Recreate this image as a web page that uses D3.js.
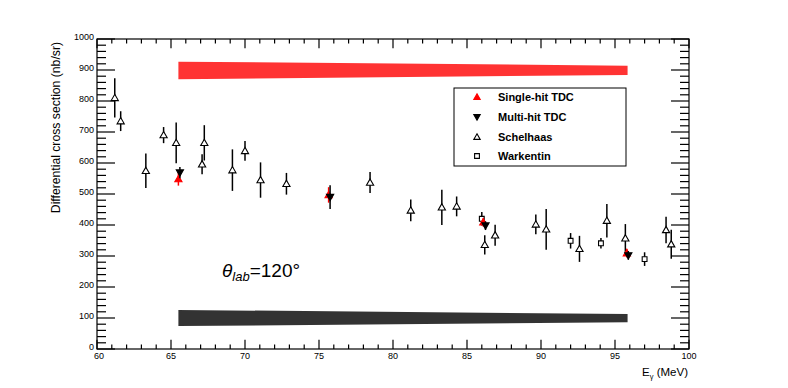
<!DOCTYPE html>
<html><head><meta charset="utf-8">
<script src="https://cdn.jsdelivr.net/npm/d3@7"></script>
<style>
body{margin:0;background:#fff;}
text{font-family:"Liberation Sans",Arial,Helvetica,sans-serif;}
</style></head>
<body><svg id="c" width="788" height="388"></svg>
<script>
// ---- data ----
const xTicks = [60,65,70,75,80,85,90,95,100];
const yTicks = [0,100,200,300,400,500,600,700,800,900,1000];

const schelhaasE   = [61.2, 61.6, 63.3, 64.5, 65.35, 67.1, 67.25, 69.15, 70.0, 71.05, 72.8, 78.45, 81.2, 83.3, 84.3, 86.2, 86.9, 89.65, 90.35, 92.6, 94.45, 95.7, 98.45, 98.8];
const schelhaasV   = [810, 735, 575, 690, 665, 596, 665, 577, 639, 545, 533, 537, 447, 457, 460, 336, 367, 402, 386, 323, 414, 357, 384, 338];
const schelhaasErr = [63, 32, 56, 26, 66, 32, 57, 67, 32, 57, 35, 34, 35, 57, 32, 31, 34, 32, 66, 42, 54, 46, 43, 47];

const warkentinE   = [86.0, 92.0, 94.05, 97.0];
const warkentinV   = [420, 349, 341, 290];
const warkentinErr = [22, 25, 17, 22];

const singleE   = [65.5, 75.65, 86.1, 95.8];
const singleV   = [548, 497, 409, 309];
const singleErr = [21, 25, 14, 14];

const multiE   = [65.6, 75.75, 86.25, 95.9];
const multiV   = [569, 490, 398, 302];
const multiErr = [18, 38, 14, 14];

const bandE        = [65.5, 95.85];
const redBandLow   = [870, 884];
const redBandHigh  = [927, 914];
const blackBandLow = [74, 86];
const blackBandHigh= [126, 113];

const legendLabels = ["Single-hit TDC","Multi-hit TDC","Schelhaas","Warkentin"];

// ---- layout ----
const svg = d3.select("#c");
const L=97, R=689, T=39, B=349;
const x = d3.scaleLinear().domain([60,100]).range([L,R]);
const y = d3.scaleLinear().domain([0,1000]).range([B,T]);

// bands
function band(lo, hi, color){
  const pts = bandE.map((e,i)=>[x(e), y(hi[i])]).concat(bandE.map((e,i)=>[x(e), y(lo[i])]).reverse());
  svg.append("path").attr("d", d3.line()(pts)+"Z").attr("fill", color);
}
band(redBandLow, redBandHigh, "#ff3333");
band(blackBandLow, blackBandHigh, "#333333");

// frame
svg.append("rect").attr("x",L).attr("y",T).attr("width",R-L).attr("height",B-T)
  .attr("fill","none").attr("stroke","#000").attr("stroke-width",1.2);

// ticks
const g = svg.append("g").attr("stroke","#000").attr("stroke-width",1.2);
const xMinor = d3.range(60,100.001,1);
xMinor.forEach(v=>{
  const major = Math.abs(v%5)<1e-6;
  const len = major?9.3:4.6;
  g.append("line").attr("x1",x(v)).attr("x2",x(v)).attr("y1",B).attr("y2",B-len);
  g.append("line").attr("x1",x(v)).attr("x2",x(v)).attr("y1",T).attr("y2",T+len);
});
const yMinor = d3.range(0,1000.001,20);
yMinor.forEach(v=>{
  const major = Math.abs(v%100)<1e-6;
  const len = major?18:9;
  g.append("line").attr("y1",y(v)).attr("y2",y(v)).attr("x1",L).attr("x2",L+len);
  g.append("line").attr("y1",y(v)).attr("y2",y(v)).attr("x1",R).attr("x2",R-len);
});

// tick labels
svg.append("g").selectAll("text").data(xTicks).join("text")
  .attr("x",d=>x(d)+ (d===60?2:0)).attr("y",B+10).attr("text-anchor","middle")
  .attr("font-size",9).text(d=>d);
svg.append("g").selectAll("text").data(yTicks).join("text")
  .attr("x",L-3).attr("y",d=>y(d)+1).attr("text-anchor","end")
  .attr("font-size",9).text(d=>d);

// axis titles
svg.append("text").attr("transform",`translate(60,42) rotate(-90)`).attr("text-anchor","end")
  .attr("font-size",12.2).text("Differential cross section (nb/sr)");
const xt = svg.append("text").attr("x",688).attr("y",376).attr("text-anchor","end").attr("font-size",11.5);
xt.append("tspan").text("E");
xt.append("tspan").attr("font-size",7.5).attr("dy",2.5).text("γ");
xt.append("tspan").attr("dy",-2.5).text(" (MeV)");

// label theta
const th = svg.append("text").attr("x",222).attr("y",277).attr("font-size",19);
th.append("tspan").attr("font-style","italic").text("θ");
th.append("tspan").attr("font-style","italic").attr("font-size",13).attr("dy",4).text("lab");
th.append("tspan").attr("dy",-4).text("=120°");

// markers
const up = s => `M0,${-s}L${s},${s*0.75}L${-s},${s*0.75}Z`;
const down = s => `M0,${s}L${s},${-s*0.75}L${-s},${-s*0.75}Z`;
const sq = s => `M${-s},${-s}H${s}V${s}H${-s}Z`;

function series(E,V,Er,path,fill,stroke,lineColor){
  const gg = svg.append("g");
  gg.selectAll("line").data(E).join("line")
    .attr("x1",(d)=>x(d)).attr("x2",(d)=>x(d))
    .attr("y1",(d,i)=>y(V[i]-Er[i])).attr("y2",(d,i)=>y(V[i]+Er[i]))
    .attr("stroke",lineColor).attr("stroke-width",1.5);
  gg.selectAll("path").data(E).join("path")
    .attr("transform",(d,i)=>`translate(${x(d)},${y(V[i])})`)
    .attr("d",path).attr("fill",fill).attr("stroke",stroke).attr("stroke-width",1.1);
}
series(schelhaasE,schelhaasV,schelhaasErr,up(3.6),"#fff","#000","#000");
series(warkentinE,warkentinV,warkentinErr,sq(2.4),"#fff","#000","#000");
series(singleE,singleV,singleErr,up(3.6),"#ff0000","#ff0000","#ff0000");
series(multiE,multiV,multiErr,down(3.6),"#000","#000","#000");

// legend
const lg = svg.append("g");
lg.append("rect").attr("x",454).attr("y",88).attr("width",172).attr("height",78)
  .attr("fill","#fff").attr("stroke","#000").attr("stroke-width",1);
const rowsY = [97,117,137,156];
const legMarks = [[up(3.2),"#ff0000","#ff0000"],[down(3.2),"#000","#000"],[up(3.2),"#fff","#000"],[sq(2.4),"#fff","#000"]];
legendLabels.forEach((t,i)=>{
  lg.append("path").attr("transform",`translate(477,${rowsY[i]})`).attr("d",legMarks[i][0])
    .attr("fill",legMarks[i][1]).attr("stroke",legMarks[i][2]).attr("stroke-width",1.1);
  lg.append("text").attr("x",498).attr("y",rowsY[i]+4).attr("font-size",11).attr("font-weight","bold").text(t);
});
</script></body></html>
